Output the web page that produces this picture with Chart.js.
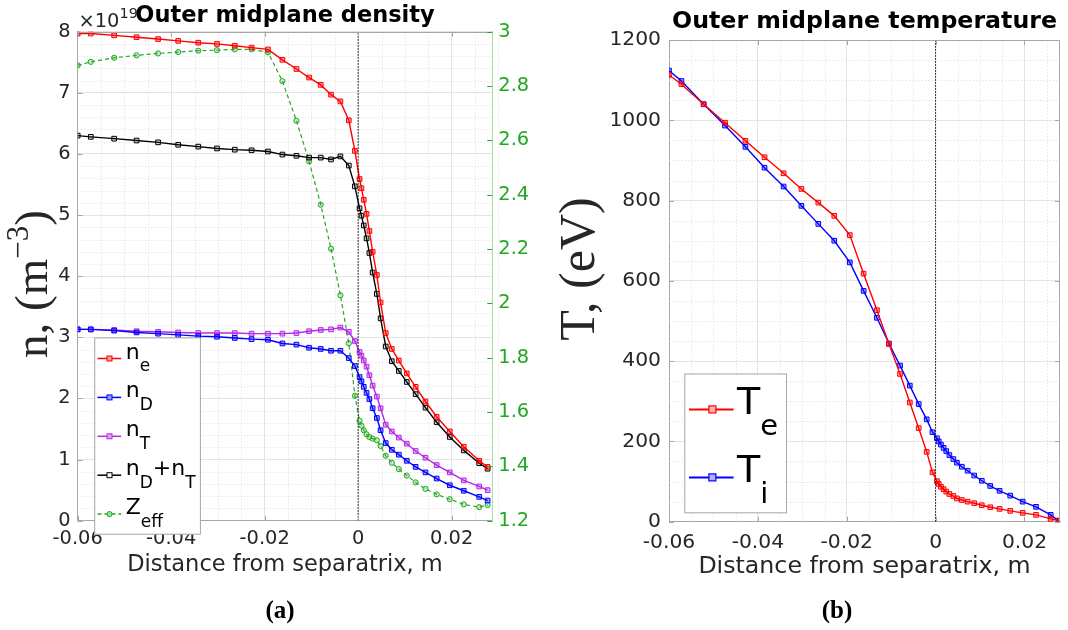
<!DOCTYPE html>
<html>
<head>
<meta charset="utf-8">
<script src="https://cdn.jsdelivr.net/npm/chart.js@4.4.1/dist/chart.umd.min.js"></script>
<style>
html,body{margin:0;padding:0;background:#fff;}
#wrap{position:relative;width:1068px;height:630px;overflow:hidden;background:#fff;}
canvas{position:absolute;top:0;}
svg.ov{position:absolute;left:0;top:0;pointer-events:none;}
</style>
</head>
<body>
<div id="wrap">
<canvas id="cA" width="534" height="630" style="left:0;width:534px;height:630px"></canvas>
<canvas id="cB" width="534" height="630" style="left:534px;width:534px;height:630px"></canvas>
<svg class="ov" width="1068" height="630" xmlns="http://www.w3.org/2000/svg">
  <!-- exponent label -->
  <text x="78.5" y="27" font-family="DejaVu Sans" font-size="19.4" fill="#262626">×10<tspan font-size="14.5" dy="-9">19</tspan></text>
  <!-- y titles -->
  <text transform="translate(47,284) rotate(-90)" text-anchor="middle" font-family="Liberation Serif" font-size="47" fill="#262626">n, (m<tspan font-size="31" dy="-19">−3</tspan><tspan dy="19">)</tspan></text>
  <text transform="translate(594,269) rotate(-90)" text-anchor="middle" font-family="Liberation Serif" font-size="50" fill="#262626">T, (eV)</text>
  <!-- captions -->
  <text x="280" y="618" text-anchor="middle" font-family="Liberation Serif" font-weight="bold" font-size="25" fill="#000">(a)</text>
  <text x="837" y="618" text-anchor="middle" font-family="Liberation Serif" font-weight="bold" font-size="25" fill="#000">(b)</text>

  <!-- legend (a) -->
  <rect x="94.7" y="337.9" width="105.7" height="196.3" fill="#fff" stroke="#a6a6a6" stroke-width="1"/>
  <g font-family="DejaVu Sans" fill="#000">
    <line x1="97.5" x2="121.2" y1="358.5" y2="358.5" stroke="#ff0000" stroke-width="1.5"/>
    <rect x="107" y="356" width="5" height="5" fill="#ff9a9a" stroke="#ff0000" stroke-width="1"/>
    <text x="125.7" y="358.5" font-size="22">n<tspan font-size="17" dy="12.5">e</tspan></text>

    <line x1="97.5" x2="121.2" y1="397.4" y2="397.4" stroke="#0000ff" stroke-width="1.5"/>
    <rect x="107" y="394.9" width="5" height="5" fill="#9a9aff" stroke="#0000ff" stroke-width="1"/>
    <text x="125.7" y="397.4" font-size="22">n<tspan font-size="17" dy="12.5">D</tspan></text>

    <line x1="97.5" x2="121.2" y1="436.3" y2="436.3" stroke="#b428e6" stroke-width="1.5"/>
    <rect x="107" y="433.8" width="5" height="5" fill="#dea0f5" stroke="#b428e6" stroke-width="1"/>
    <text x="125.7" y="436.3" font-size="22">n<tspan font-size="17" dy="12.5">T</tspan></text>

    <line x1="97.5" x2="121.2" y1="475.2" y2="475.2" stroke="#000" stroke-width="1.5"/>
    <rect x="107" y="472.7" width="5" height="5" fill="#ffffff" stroke="#000" stroke-width="1"/>
    <text x="125.7" y="475.2" font-size="22">n<tspan font-size="17" dy="12.5">D</tspan><tspan dy="-12.5">+n</tspan><tspan font-size="17" dy="12.5">T</tspan></text>

    <line x1="97.5" x2="121.2" y1="514.1" y2="514.1" stroke="#22a822" stroke-width="1.5" stroke-dasharray="4 3"/>
    <circle cx="109.5" cy="514.1" r="2.6" fill="#9be09b" stroke="#22a822" stroke-width="1"/>
    <text x="125.7" y="514.1" font-size="22">Z<tspan font-size="17" dy="12.5">eff</tspan></text>
  </g>

  <!-- legend (b) -->
  <rect x="684.8" y="374" width="101.7" height="138.8" fill="#fff" stroke="#a6a6a6" stroke-width="1"/>
  <g font-family="DejaVu Sans" fill="#000">
    <line x1="689" x2="733.6" y1="409.4" y2="409.4" stroke="#ff0000" stroke-width="2"/>
    <rect x="708.9" y="405.9" width="7" height="7" fill="#ffb0b0" stroke="#ff0000" stroke-width="1.2"/>
    <text x="737" y="414.4" font-size="38">T<tspan font-size="29" dy="20.5">e</tspan></text>

    <line x1="689" x2="733.6" y1="477.4" y2="477.4" stroke="#0000ff" stroke-width="2"/>
    <rect x="708.9" y="473.9" width="7" height="7" fill="#b0b0ff" stroke="#0000ff" stroke-width="1.2"/>
    <text x="737" y="482.4" font-size="38">T<tspan font-size="29" dy="20.5">i</tspan></text>
  </g>
</svg>
</div>
<script>
// ---------------- data ----------------
const xPos = [-0.0600,-0.0572,-0.0522,-0.0474,-0.0428,-0.0385,-0.0342,-0.0302,-0.0264,-0.0228,
  -0.0193,-0.0162,-0.0132,-0.0105,-0.0080,-0.0058,-0.0038,-0.0020,-0.0007,
  0.0003,0.0007,0.0012,0.0018,0.0024,0.0031,0.0040,0.0048,0.0059,0.0072,
  0.0087,0.0104,0.0123,0.0144,0.0168,0.0196,0.0226,0.0259,0.0277];

const nE  = [7.97,7.97,7.94,7.91,7.88,7.85,7.82,7.80,7.77,7.74,7.71,7.54,7.39,7.25,7.13,6.97,6.86,6.55,6.05,
  5.59,5.44,5.25,5.02,4.74,4.40,4.02,3.57,3.07,2.81,2.62,2.41,2.19,1.95,1.70,1.46,1.21,0.98,0.88];
const nD  = [3.13,3.13,3.11,3.08,3.06,3.04,3.02,3.01,2.99,2.97,2.96,2.90,2.88,2.83,2.81,2.78,2.78,2.66,2.53,
  2.35,2.28,2.19,2.09,1.99,1.84,1.68,1.48,1.27,1.16,1.08,0.98,0.88,0.79,0.69,0.58,0.49,0.39,0.33];
const nT  = [3.13,3.13,3.12,3.10,3.09,3.08,3.07,3.07,3.07,3.06,3.06,3.06,3.07,3.10,3.12,3.13,3.16,3.09,2.94,
  2.76,2.70,2.62,2.52,2.38,2.21,2.03,1.84,1.57,1.46,1.36,1.26,1.14,1.03,0.91,0.79,0.66,0.56,0.50];
const nDT = [6.30,6.28,6.25,6.22,6.19,6.15,6.12,6.09,6.07,6.06,6.04,5.99,5.97,5.94,5.94,5.91,5.96,5.81,5.47,
  5.11,4.99,4.83,4.62,4.38,4.06,3.71,3.31,2.85,2.61,2.45,2.27,2.07,1.85,1.61,1.37,1.15,0.94,0.85];
const zEff = [2.876,2.889,2.904,2.913,2.920,2.925,2.930,2.932,2.935,2.935,2.924,2.818,2.672,2.523,2.363,2.201,2.030,1.853,1.660,
  1.568,1.550,1.533,1.518,1.508,1.502,1.496,1.475,1.439,1.413,1.390,1.366,1.341,1.317,1.297,1.279,1.260,1.250,1.258];

const tE = [1113,1090,1040,994,949,908,868,829,795,762,714,618,527,443,368,297,233,174,123,
  101,94,87,81,75,69,64,58,54,50,46,41,36,32,27,22,17,7,3];
const tI = [1124,1098,1040,987,934,882,835,787,742,700,646,575,508,444,389,339,293,255,223,
  208,200,192,184,176,166,156,147,137,127,115,102,89,77,65,50,37,17,2];

// separatrix marker line
const sepX = [0, 0];
const sepYa = [0, 8];
const sepYb = [0, 1200];

// ticks
const xTicks = [-0.06,-0.04,-0.02,0,0.02];
const xTickLabels = ['-0.06','-0.04','-0.02','0','0.02'];
const nTicks = [0,1,2,3,4,5,6,7,8];
const nTickLabels = ['0','1','2','3','4','5','6','7','8'];
const zTicks = [1.2,1.4,1.6,1.8,2,2.2,2.4,2.6,2.8,3];
const zTickLabels = ['1.2','1.4','1.6','1.8','2','2.2','2.4','2.6','2.8','3'];
const tTicks = [0,200,400,600,800,1000,1200];
const tTickLabels = ['0','200','400','600','800','1000','1200'];

// minor grid positions
function minorList(a, b, step, majors) {
  const out = [];
  const n = Math.round((b - a) / step);
  for (let i = 0; i <= n; i++) {
    const v = +(a + i * step).toFixed(6);
    if (!majors.some(m => Math.abs(m - v) < step / 10)) out.push(v);
  }
  return out;
}
const xMinorA = minorList(-0.06, 0.0285, 0.005, xTicks);
const xMinorB = minorList(-0.06, 0.028, 0.005, xTicks);
const nMinor = minorList(0, 8, 0.2, nTicks);
const tMinor = minorList(0, 1200, 50, tTicks);

// ---------------- helpers ----------------
const pts = arr => xPos.map((x, i) => ({x: x, y: arr[i]}));
const pair = (xs, ys) => xs.map((x, i) => ({x: x, y: ys[i]}));
const TICK_FONT = 'DejaVu Sans';
const AXIS_GRAY = '#a6a6a6';
const GRID = '#e4e4e4';
const MINOR = '#e2e2e2';
const GREEN = '#22a822';

function lineDs(label, data, color, fill, axis, extra) {
  return Object.assign({
    label: label, data: data, yAxisID: axis,
    borderColor: color, backgroundColor: fill, borderWidth: 1.4,
    pointStyle: 'rect', pointRadius: 3.3, pointBorderWidth: 1,
    pointBackgroundColor: fill, pointBorderColor: color,
    tension: 0, fill: false
  }, extra || {});
}

function framePlugin(cfg) {
  return {
    id: 'frame' + cfg.name,
    beforeDatasetsDraw(chart) {
      const ctx = chart.ctx, a = chart.chartArea;
      const xs = chart.scales.x, ys = chart.scales.y;
      ctx.save();
      ctx.strokeStyle = MINOR; ctx.lineWidth = 1; ctx.setLineDash([1.2, 2]);
      ctx.beginPath();
      cfg.xMinor.forEach(v => { const p = Math.round(xs.getPixelForValue(v)) + 0.5; ctx.moveTo(p, a.top); ctx.lineTo(p, a.bottom); });
      cfg.yMinor.forEach(v => { const p = Math.round(ys.getPixelForValue(v)) + 0.5; ctx.moveTo(a.left, p); ctx.lineTo(a.right, p); });
      ctx.stroke();
      ctx.restore();
    },
    afterDatasetsDraw(chart) {
      const ctx = chart.ctx, a = chart.chartArea;
      const xs = chart.scales.x, ys = chart.scales.y;
      const L = 5;
      ctx.save();
      ctx.lineWidth = 1; ctx.strokeStyle = AXIS_GRAY;
      ctx.beginPath();
      ctx.moveTo(a.left, Math.round(a.top) + 0.5); ctx.lineTo(a.right, Math.round(a.top) + 0.5);
      xTicks.forEach(v => {
        const p = Math.round(xs.getPixelForValue(v)) + 0.5;
        ctx.moveTo(p, a.bottom); ctx.lineTo(p, a.bottom - L);
        ctx.moveTo(p, a.top); ctx.lineTo(p, a.top + L);
      });
      cfg.yTicks.forEach(v => {
        const p = Math.round(ys.getPixelForValue(v)) + 0.5;
        ctx.moveTo(a.left, p); ctx.lineTo(a.left + L, p);
        if (cfg.rightBox) { ctx.moveTo(a.right, p); ctx.lineTo(a.right - L, p); }
      });
      if (cfg.rightBox) { const r = Math.round(a.right) - 0.5; ctx.moveTo(r, a.top); ctx.lineTo(r, a.bottom); }
      ctx.stroke();
      if (cfg.y2) {
        const y2 = chart.scales.y1;
        ctx.strokeStyle = GREEN; ctx.beginPath();
        zTicks.forEach(v => { const p = Math.round(y2.getPixelForValue(v)) + 0.5; ctx.moveTo(a.right, p); ctx.lineTo(a.right - L, p); });
        ctx.stroke();
      }
      ctx.restore();
    }
  };
}

Chart.defaults.font.family = TICK_FONT;
Chart.defaults.animation = false;

// ---------------- chart (a) ----------------
new Chart(document.getElementById('cA'), {
  type: 'line',
  data: {
    datasets: [
      lineDs('separatrix', pair(sepX, sepYa), '#000', '#000', 'y', {pointRadius: 0, borderWidth: 1, borderDash: [1.5, 1.5]}),
      lineDs('n_e', pts(nE), '#ff0000', 'rgba(255,0,0,0.35)', 'y'),
      lineDs('n_D', pts(nD), '#0000ff', 'rgba(0,0,255,0.35)', 'y'),
      lineDs('n_T', pts(nT), '#b428e6', 'rgba(180,40,230,0.35)', 'y'),
      lineDs('n_D+n_T', pts(nDT), '#000000', 'rgba(0,0,0,0.15)', 'y'),
      lineDs('Z_eff', pts(zEff), GREEN, 'rgba(34,168,34,0.25)', 'y1', {pointStyle: 'circle', pointRadius: 2.6, borderDash: [4, 3], borderWidth: 1.2})
    ]
  },
  options: {
    responsive: false, animation: false,
    layout: {padding: {left: 0, right: 0, top: 0, bottom: 0}},
    plugins: {
      legend: {display: false}, tooltip: {enabled: false},
      title: {display: true, text: 'Outer midplane density', fullSize: false, color: '#000',
        font: {family: TICK_FONT, size: 22.5, weight: 'bold'}, padding: {top: 2.7, bottom: 2}}
    },
    scales: {
      x: {
        type: 'linear', min: -0.06, max: 0.0287,
        afterBuildTicks: s => { s.ticks = xTicks.map(v => ({value: v})); },
        afterFit: s => { s.height = 109.3; },
        ticks: {callback: (v, i) => xTickLabels[i], autoSkip: false, maxRotation: 0, padding: 6.5,
          color: '#262626', font: {family: TICK_FONT, size: 19.4}},
        grid: {color: GRID, drawTicks: false},
        border: {color: AXIS_GRAY},
        title: {display: true, text: 'Distance from separatrix, m', color: '#262626',
          font: {family: TICK_FONT, size: 22.5}, padding: {top: 0, bottom: 51.7}}
      },
      y: {
        type: 'linear', position: 'left', min: 0, max: 8,
        afterBuildTicks: s => { s.ticks = nTicks.map(v => ({value: v})); },
        afterFit: s => { s.width = 77.7; },
        ticks: {callback: (v, i) => nTickLabels[i], autoSkip: false, padding: 7,
          color: '#262626', font: {family: TICK_FONT, size: 19.4}},
        grid: {color: GRID, drawTicks: false},
        border: {color: AXIS_GRAY}
      },
      y1: {
        type: 'linear', position: 'right', min: 1.2, max: 3,
        afterBuildTicks: s => { s.ticks = zTicks.map(v => ({value: v})); },
        afterFit: s => { s.width = 41.7; },
        ticks: {callback: (v, i) => zTickLabels[i], autoSkip: false, padding: 6,
          color: GREEN, font: {family: TICK_FONT, size: 19.4}},
        grid: {drawOnChartArea: false, drawTicks: false},
        border: {color: '#a8dca8'}
      }
    }
  },
  plugins: [framePlugin({name: 'A', xMinor: xMinorA, yMinor: nMinor, yTicks: nTicks, rightBox: false, y2: true})]
});

// ---------------- chart (b) ----------------
new Chart(document.getElementById('cB'), {
  type: 'line',
  data: {
    datasets: [
      lineDs('separatrix', pair(sepX, sepYb), '#000', '#000', 'y', {pointRadius: 0, borderWidth: 1, borderDash: [1.5, 1.5]}),
      lineDs('T_e', pts(tE), '#ff0000', 'rgba(255,0,0,0.35)', 'y'),
      lineDs('T_i', pts(tI), '#0000ff', 'rgba(0,0,255,0.35)', 'y')
    ]
  },
  options: {
    responsive: false, animation: false,
    layout: {padding: {left: 0, right: 8, top: 0, bottom: 0}},
    plugins: {
      legend: {display: false}, tooltip: {enabled: false},
      title: {display: true, text: 'Outer midplane temperature', fullSize: false, color: '#000',
        font: {family: TICK_FONT, size: 23.7, weight: 'bold'}, padding: {top: 7.4, bottom: 4.2}}
    },
    scales: {
      x: {
        type: 'linear', min: -0.06, max: 0.028,
        afterBuildTicks: s => { s.ticks = xTicks.map(v => ({value: v})); },
        afterFit: s => { s.height = 108.3; },
        ticks: {callback: (v, i) => xTickLabels[i], autoSkip: false, maxRotation: 0, padding: 9.2,
          color: '#262626', font: {family: TICK_FONT, size: 20.3}},
        grid: {color: GRID, drawTicks: false},
        border: {color: AXIS_GRAY},
        title: {display: true, text: 'Distance from separatrix, m', color: '#262626',
          font: {family: TICK_FONT, size: 23.7}, padding: {top: 0, bottom: 48.7}}
      },
      y: {
        type: 'linear', position: 'left', min: 0, max: 1200,
        afterBuildTicks: s => { s.ticks = tTicks.map(v => ({value: v})); },
        afterFit: s => { s.width = 135; },
        ticks: {callback: (v, i) => tTickLabels[i], autoSkip: false, padding: 8,
          color: '#262626', font: {family: TICK_FONT, size: 20.3}},
        grid: {color: GRID, drawTicks: false},
        border: {color: AXIS_GRAY}
      }
    }
  },
  plugins: [framePlugin({name: 'B', xMinor: xMinorB, yMinor: tMinor, yTicks: tTicks, rightBox: true, y2: false})]
});
</script>
</body>
</html>
